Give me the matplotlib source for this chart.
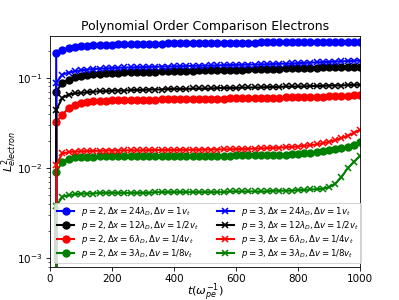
import numpy as np
import matplotlib
matplotlib.use("Agg")
import matplotlib.pyplot as plt

# output times (omega_pe^-1), first sample is the initial (zero) error
t = np.arange(0, 1001, 20)

p2_dx24 = [0.0,
           0.190, 0.205, 0.214, 0.220, 0.224, 0.227, 0.229, 0.231, 0.232, 0.233,
           0.234, 0.235, 0.236, 0.237, 0.237, 0.238, 0.239, 0.239, 0.240, 0.240,
           0.241, 0.241, 0.242, 0.242, 0.243, 0.243, 0.243, 0.244, 0.244, 0.244,
           0.245, 0.245, 0.245, 0.246, 0.246, 0.246, 0.247, 0.247, 0.247, 0.248,
           0.248, 0.248, 0.249, 0.249, 0.249, 0.250, 0.250, 0.250, 0.251, 0.251]
p2_dx12 = [0.0,
           0.070, 0.088, 0.095, 0.101, 0.105, 0.108, 0.110, 0.111, 0.112, 0.113,
           0.114, 0.115, 0.115, 0.116, 0.116, 0.117, 0.117, 0.118, 0.118, 0.119,
           0.119, 0.120, 0.120, 0.121, 0.121, 0.121, 0.122, 0.122, 0.123, 0.123,
           0.123, 0.124, 0.124, 0.125, 0.125, 0.126, 0.126, 0.127, 0.127, 0.128,
           0.128, 0.129, 0.129, 0.130, 0.130, 0.131, 0.131, 0.132, 0.132, 0.133]
p2_dx6 = [0.0,
          0.0324, 0.0388, 0.0464, 0.0500, 0.0530, 0.0540, 0.0548, 0.0553, 0.0557, 0.0560,
          0.0562, 0.0564, 0.0566, 0.0568, 0.0570, 0.0572, 0.0573, 0.0574, 0.0576, 0.0577,
          0.0578, 0.0580, 0.0581, 0.0582, 0.0584, 0.0585, 0.0587, 0.0588, 0.0590, 0.0591,
          0.0593, 0.0594, 0.0596, 0.0598, 0.0599, 0.0601, 0.0603, 0.0605, 0.0607, 0.0609,
          0.0611, 0.0613, 0.0616, 0.0619, 0.0622, 0.0626, 0.0630, 0.0635, 0.0641, 0.0647]
p2_dx3 = [0.0,
          0.0090, 0.0118, 0.0127, 0.0131, 0.0133, 0.0134, 0.0134, 0.0135, 0.0135, 0.0135,
          0.0135, 0.0135, 0.0135, 0.0136, 0.0136, 0.0136, 0.0136, 0.0136, 0.0136, 0.0136,
          0.0136, 0.0136, 0.0136, 0.0137, 0.0137, 0.0137, 0.0137, 0.0137, 0.0137, 0.0138,
          0.0138, 0.0138, 0.0138, 0.0139, 0.0139, 0.0140, 0.0140, 0.0141, 0.0142, 0.0143,
          0.0145, 0.0147, 0.0150, 0.0153, 0.0157, 0.0161, 0.0166, 0.0172, 0.0181, 0.0194]

p3_dx24 = [0.0,
           0.088, 0.108, 0.114, 0.118, 0.121, 0.123, 0.125, 0.126, 0.127, 0.128,
           0.129, 0.130, 0.130, 0.131, 0.131, 0.132, 0.132, 0.133, 0.133, 0.134,
           0.134, 0.135, 0.135, 0.136, 0.136, 0.137, 0.137, 0.138, 0.138, 0.139,
           0.139, 0.140, 0.140, 0.141, 0.141, 0.142, 0.143, 0.143, 0.144, 0.145,
           0.146, 0.147, 0.148, 0.149, 0.150, 0.151, 0.152, 0.153, 0.154, 0.155]
p3_dx12 = [0.0,
           0.044, 0.060, 0.065, 0.067, 0.068, 0.069, 0.070, 0.071, 0.071, 0.072,
           0.072, 0.072, 0.073, 0.073, 0.073, 0.074, 0.074, 0.074, 0.075, 0.075,
           0.075, 0.075, 0.076, 0.076, 0.076, 0.076, 0.077, 0.077, 0.077, 0.077,
           0.078, 0.078, 0.078, 0.078, 0.079, 0.079, 0.079, 0.080, 0.080, 0.080,
           0.080, 0.081, 0.081, 0.081, 0.082, 0.082, 0.082, 0.083, 0.083, 0.084]
p3_dx6 = [0.0,
          0.0108, 0.0145, 0.0150, 0.0152, 0.0153, 0.0154, 0.0155, 0.0155, 0.0156, 0.0156,
          0.0156, 0.0157, 0.0157, 0.0157, 0.0157, 0.0158, 0.0158, 0.0158, 0.0158, 0.0158,
          0.0159, 0.0159, 0.0159, 0.0159, 0.0160, 0.0160, 0.0160, 0.0161, 0.0161, 0.0162,
          0.0162, 0.0163, 0.0164, 0.0165, 0.0166, 0.0167, 0.0168, 0.0170, 0.0171, 0.0173,
          0.0176, 0.0179, 0.0183, 0.0188, 0.0194, 0.0203, 0.0214, 0.0228, 0.0245, 0.0264]
p3_dx3 = [0.0,
          0.0038, 0.0048, 0.0050, 0.0051, 0.0052, 0.0052, 0.0052, 0.0053, 0.0053, 0.0053,
          0.0053, 0.0053, 0.0053, 0.0053, 0.0053, 0.0053, 0.0054, 0.0054, 0.0054, 0.0054,
          0.0054, 0.0054, 0.0054, 0.0054, 0.0054, 0.0054, 0.0054, 0.0054, 0.0055, 0.0055,
          0.0055, 0.0055, 0.0055, 0.0055, 0.0055, 0.0056, 0.0056, 0.0056, 0.0056, 0.0057,
          0.0057, 0.0058, 0.0058, 0.0059, 0.0061, 0.0067, 0.0079, 0.0099, 0.0117, 0.0136]

colors = ["blue", "black", "red", "green"]
res_labels = [r"\Delta x = 24\lambda_D, \Delta v = 1v_t",
              r"\Delta x = 12\lambda_D, \Delta v = 1/2v_t",
              r"\Delta x = 6\lambda_D, \Delta v = 1/4v_t",
              r"\Delta x = 3\lambda_D, \Delta v = 1/8v_t"]

runs = {
    ("2", "o"): [p2_dx24, p2_dx12, p2_dx6, p2_dx3],
    ("3", "x"): [p3_dx24, p3_dx12, p3_dx6, p3_dx3],
}

fig, ax = plt.subplots(figsize=(5.333, 4))

for (p, marker), series in runs.items():
    for y, c, res in zip(series, colors, res_labels):
        ax.plot(t, y, color=c, marker=marker, lw=2, ms=6.5, mew=1.5,
                label=rf"$p = {p}, {res}$")

ax.set_yscale("log")
ax.set_xlim(0, 1000)
ax.set_ylim(8e-4, 0.29)
ax.set_title("Polynomial Order Comparison Electrons")
ax.set_xlabel(r"$t(\omega_{pe}^{-1})$", fontsize=11)
ax.set_ylabel(r"$L^2_{electron}$", fontsize=11)
ax.xaxis.set_label_coords(0.5, -0.065)
ax.yaxis.set_label_coords(-0.1, 0.5)
ax.legend(loc="lower left", ncol=2, fontsize="small",
          labelspacing=0.1, borderpad=0.3)

plt.savefig("out.png", dpi=75)
